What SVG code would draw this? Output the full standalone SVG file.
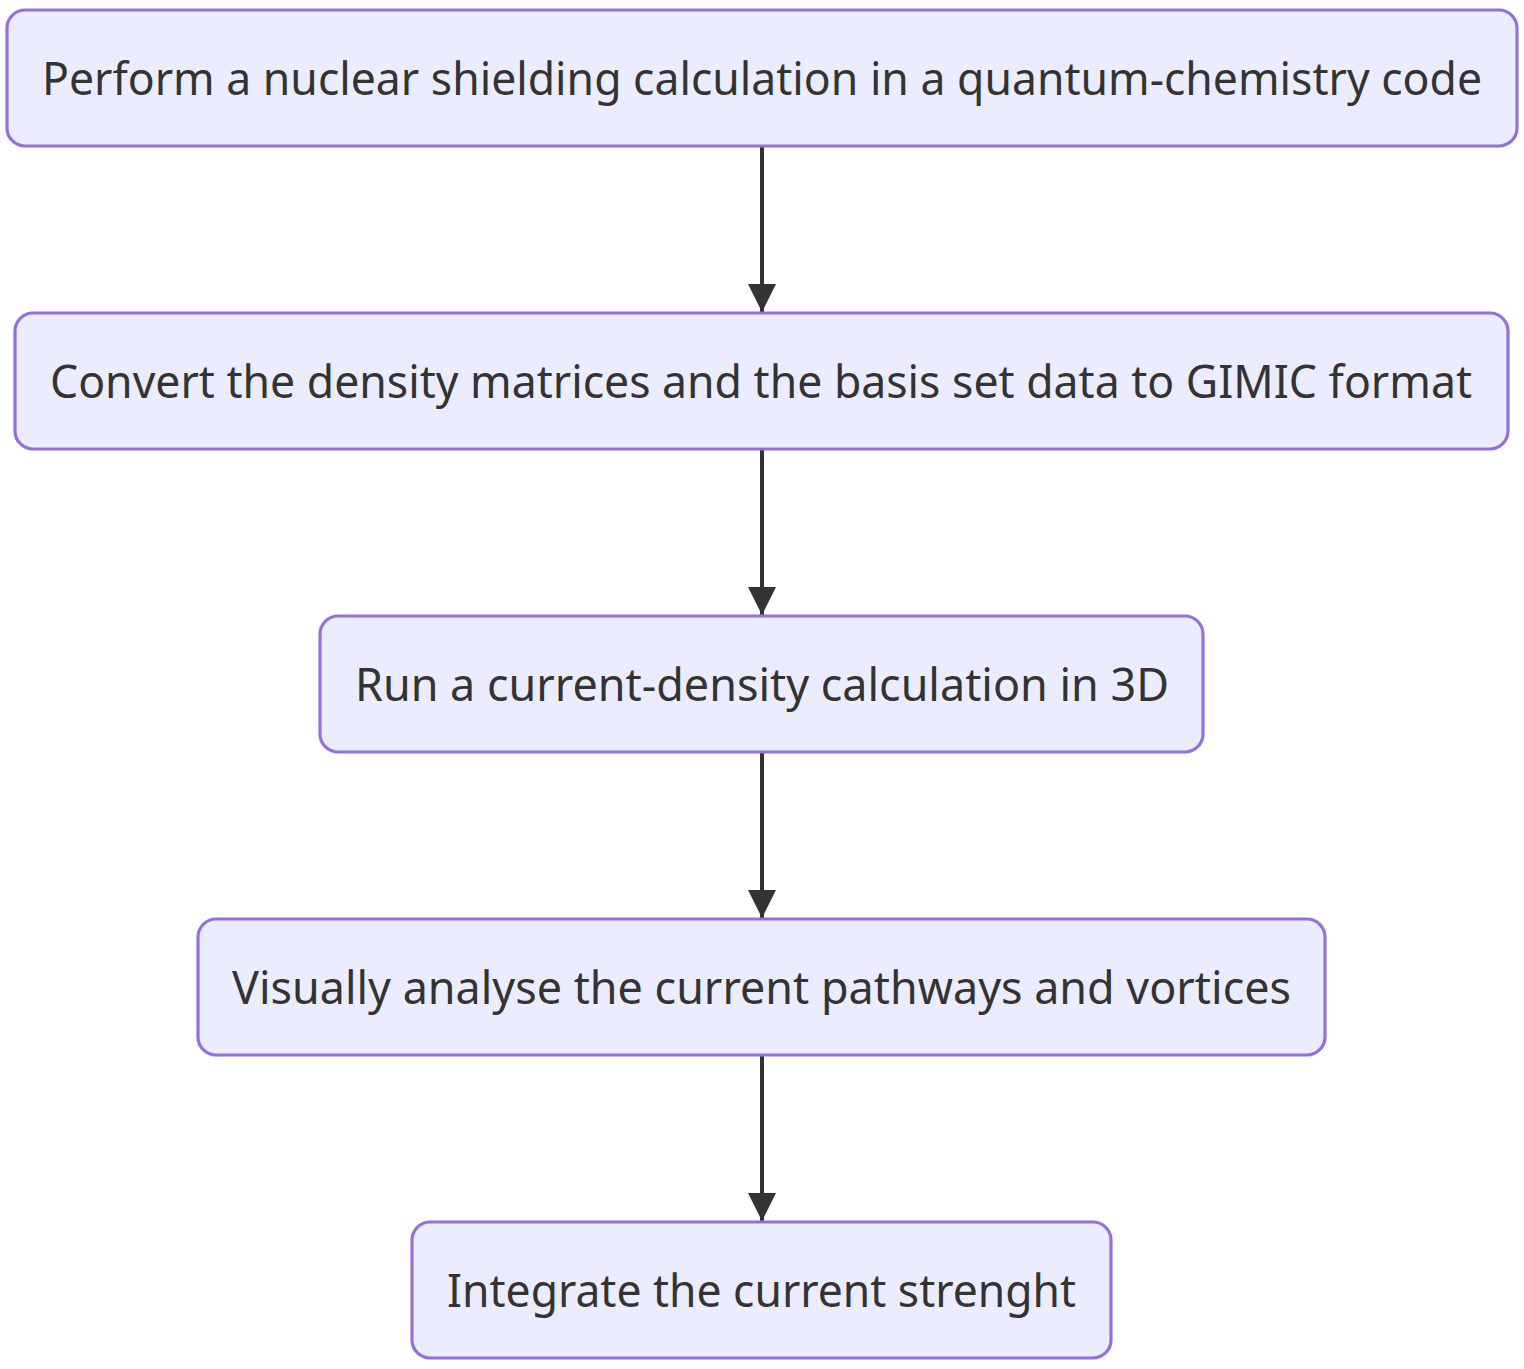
<svg xmlns="http://www.w3.org/2000/svg" width="1524" height="1369" viewBox="0 0 1524 1369">
<style>
.node rect{fill:#ECECFF;stroke:#9370DB;stroke-width:3.2;}
.node text{font-family:"Noto Sans","Open Sans","DejaVu Sans",sans-serif;font-size:45px;fill:#333333;text-anchor:middle;}
.edge{stroke:#333333;stroke-width:4;fill:none;}
</style>
<defs>
<marker id="arrow" viewBox="0 0 10 10" refX="10" refY="5" markerWidth="7" markerHeight="7" markerUnits="strokeWidth" orient="auto">
<path d="M0,0 L10,5 L0,10 z" fill="#333333"/>
</marker>
</defs>
<rect width="1524" height="1369" fill="#ffffff"/>
<g id="edges">
<line class="edge" x1="762" y1="146" x2="762" y2="312" marker-end="url(#arrow)"/>
<line class="edge" x1="762" y1="449" x2="762" y2="615" marker-end="url(#arrow)"/>
<line class="edge" x1="762" y1="752" x2="762" y2="918" marker-end="url(#arrow)"/>
<line class="edge" x1="762" y1="1055" x2="762" y2="1221" marker-end="url(#arrow)"/>
</g>
<g id="n1" class="node"><rect x="7" y="10" width="1510" height="136" rx="18"/><text x="762" y="95" textLength="1440" lengthAdjust="spacingAndGlyphs">Perform a nuclear shielding calculation in a quantum-chemistry code</text></g>
<g id="n2" class="node"><rect x="15" y="313" width="1493" height="136" rx="18"/><text x="761" y="398" textLength="1422" lengthAdjust="spacingAndGlyphs">Convert the density matrices and the basis set data to GIMIC format</text></g>
<g id="n3" class="node"><rect x="320" y="616" width="883" height="136" rx="18"/><text x="762" y="701" textLength="814" lengthAdjust="spacingAndGlyphs">Run a current-density calculation in 3D</text></g>
<g id="n4" class="node"><rect x="198" y="919" width="1127" height="136" rx="18"/><text x="761.5" y="1004" textLength="1059" lengthAdjust="spacingAndGlyphs">Visually analyse the current pathways and vortices</text></g>
<g id="n5" class="node"><rect x="412" y="1222" width="699" height="136" rx="18"/><text x="761.5" y="1307" textLength="629" lengthAdjust="spacingAndGlyphs">Integrate the current strenght</text></g>
</svg>
